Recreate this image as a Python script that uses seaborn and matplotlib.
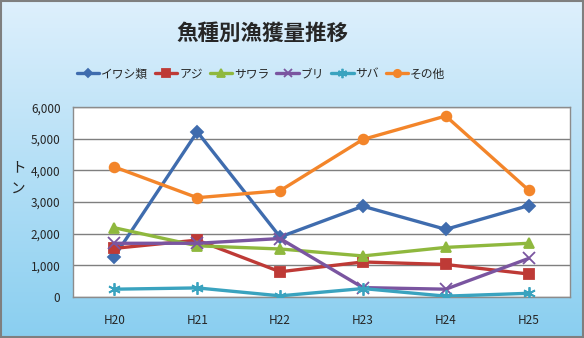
import numpy as np
import pandas as pd
import matplotlib
matplotlib.use("Agg")
import matplotlib.pyplot as plt
from matplotlib.patches import Rectangle
import seaborn as sns

years = ["H20", "H21", "H22", "H23", "H24", "H25"]
iwashi = [1280, 5220, 1900, 2870, 2140, 2890]
aji = [1540, 1800, 800, 1110, 1030, 730]
sawara = [2190, 1620, 1520, 1300, 1570, 1700]
buri = [1700, 1700, 1850, 300, 250, 1220]
saba = [250, 290, 40, 270, 30, 120]
sonota = [4110, 3140, 3360, 4980, 5720, 3380]

series_names = ["イワシ類", "アジ", "サワラ", "ブリ", "サバ", "その他"]
series_values = [iwashi, aji, sawara, buri, saba, sonota]
colors = ["#3f6cae", "#be3a36", "#8fb83e", "#7a55a0", "#3aa3bf", "#f3852a"]
markers = ["D", "s", "^", "x", (6, 2, 0), "o"]
msizes = [6, 7, 7, 8, 9, 7]

sns.set_theme(style="white")
plt.rcParams["font.family"] = ["Noto Sans CJK JP", "DejaVu Sans"]

fig = plt.figure(figsize=(5.84, 3.38), dpi=100)

# gradient background
bg = fig.add_axes([0, 0, 1, 1], zorder=-10)
grad = np.linspace(0, 1, 256).reshape(-1, 1)
top = np.array([0.87, 0.94, 0.99])
bot = np.array([0.54, 0.81, 0.94])
img = top[None, None, :] * (1 - grad[:, :, None]) + bot[None, None, :] * grad[:, :, None]
bg.imshow(img, aspect="auto", extent=[0, 1, 0, 1])
bg.set_xlim(0, 1)
bg.set_ylim(0, 1)
bg.axis("off")
bg.add_patch(Rectangle((0.002, 0.003), 0.996, 0.994, fill=False,
                       edgecolor="#7f7f7f", linewidth=1.5, transform=bg.transAxes))

ax = fig.add_axes([0.125, 0.121, 0.851, 0.562])
ax.set_facecolor("white")

x = np.arange(len(years))
for name, vals, c, m, ms in zip(series_names, series_values, colors, markers, msizes):
    df = pd.DataFrame({"x": x, "y": vals})
    sns.lineplot(data=df, x="x", y="y", ax=ax, color=c, linewidth=2.4,
                 marker=m, markersize=ms, markeredgecolor=c, markeredgewidth=1.3,
                 label=name, zorder=3)

ax.set_xlim(-0.5, len(years) - 0.5)
ax.set_ylim(0, 6000)
ax.set_yticks(range(0, 6001, 1000))
ax.set_yticklabels([f"{v:,}" for v in range(0, 6001, 1000)], fontsize=8.5)
ax.set_xticks(x)
ax.set_xticklabels(years, fontsize=8.5)
ax.tick_params(axis="x", length=0, pad=12)
ax.tick_params(axis="y", length=0, pad=9)
ax.yaxis.grid(True, color="#7f7f7f", linewidth=1.0)
ax.set_axisbelow(True)
for s in ax.spines.values():
    s.set_color("#8c8c8c")
    s.set_linewidth(1.0)
ax.set_xlabel("")
ax.set_ylabel("")

# vertical axis unit, stacked characters
fig.text(0.031, 1 - 168 / 338, "ト", fontsize=10.5, ha="center", va="center")
fig.text(0.031, 1 - 189 / 338, "ン", fontsize=10.5, ha="center", va="center")

fig.text(0.449, 0.902, "魚種別漁獲量推移", fontsize=15.5, fontweight="bold",
         ha="center", va="center")

handles, labels = ax.get_legend_handles_labels()
ax.legend_.remove()
fig.legend(handles, labels, loc="center", bbox_to_anchor=(0.447, 0.781), ncol=6,
           frameon=False, fontsize=8.5, handlelength=1.9, handletextpad=0.15,
           columnspacing=0.6, markerscale=0.75)

fig.savefig("out.png", dpi=100)
